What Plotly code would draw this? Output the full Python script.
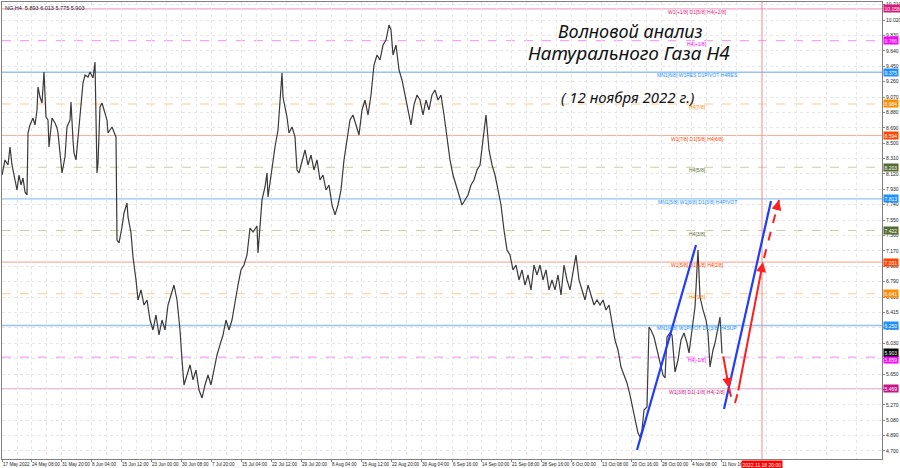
import plotly.graph_objects as go

# ---------------- data ----------------
# H4 bar index (sampled) and price of Natural Gas
bar_idx = [2, 5, 8, 10, 12, 15, 17, 19, 21, 23, 25, 27, 28, 30, 33, 35, 37, 38, 40, 42, 44, 46, 48, 49, 52, 55, 57, 58,
           60, 62, 65, 67, 70, 71, 73, 74, 76, 78, 80, 83, 85, 88, 90, 93, 95, 96, 97, 98, 100, 102, 105, 107, 108,
           112, 114, 116, 117, 119, 122, 124, 127, 128, 131, 133,
           136, 138, 141, 144, 147, 150, 153, 156, 159, 162, 165, 168, 171, 174, 177, 180, 182, 184, 187, 190, 193,
           196, 199, 202, 205, 208, 211, 214, 217, 220, 223, 226, 229, 232, 235, 238, 241, 244, 247,
           250, 253, 257, 258, 262, 265, 267, 268, 272, 275, 278, 282, 283, 287, 289, 292, 295, 297, 299,
           302, 305, 308, 311, 314, 317, 320, 323, 326, 329, 332, 335, 338, 341, 344, 347, 350, 353, 356, 359, 362,
           365, 368, 371, 374, 377, 380, 383, 386, 389, 391, 393, 396, 399, 402, 405, 408, 411, 414, 417, 420, 423,
           426, 429, 432, 435, 438, 441, 444,
           447, 450, 453, 456, 459, 462, 465, 468, 471, 474, 477, 480, 483, 486, 489, 492, 495, 498, 501, 504, 507,
           510, 513, 516, 519, 522, 525, 528, 531, 534, 537, 540, 543, 546, 549, 552, 555, 558, 561, 564, 567, 570,
           573, 576, 579, 582, 585, 588, 591, 594, 597, 600, 603, 606, 609,
           612, 615, 618, 621, 624, 627, 630, 633, 636, 638, 640, 642, 644, 647, 649, 651, 654, 657, 660, 663, 665,
           667, 670, 672, 675, 678, 681, 684, 687, 689, 692, 695, 698, 700, 703, 706, 708, 710, 713, 715, 717, 720,
           722]
price = [8.107, 8.293, 8.231, 8.453, 8.231, 8.070, 7.922, 8.107, 7.984, 8.070, 7.898, 7.860, 8.626, 8.725, 8.811,
         8.725, 8.910, 9.194, 9.070, 8.996, 9.379, 8.823, 8.786, 8.453, 8.811, 8.749, 8.688, 8.626,
         8.330, 8.132, 8.330, 8.700, 8.786, 9.009, 8.540, 8.379, 8.293, 8.577, 8.786, 9.243, 9.342, 9.317, 9.379,
         9.305, 9.502, 8.540, 8.132, 8.256, 8.947, 8.996, 8.873, 8.786, 8.626,
         8.700, 8.638, 8.577, 7.305, 7.268, 7.465, 7.638, 7.762, 7.589, 7.391, 7.095,
         6.811, 6.564, 6.688, 6.502, 6.564, 6.317, 6.194, 6.379, 6.132, 6.317, 6.194, 6.502, 6.626, 6.749, 6.564,
         6.194, 5.823, 5.515, 5.638, 5.762, 5.577, 5.700, 5.453, 5.354, 5.515, 5.638, 5.515, 5.700, 5.885, 6.009,
         6.132, 6.317, 6.194, 6.317, 6.564, 6.749, 6.935, 6.996, 7.120,
         7.453, 7.404, 7.478, 7.144, 7.799, 7.959, 8.132, 7.836, 8.206, 8.453, 8.663, 9.367, 9.070, 8.823, 8.626,
         8.700, 8.577, 8.169, 8.132,
         8.293, 8.416, 8.231, 8.354, 8.169, 8.293, 8.046, 8.107, 7.922, 7.984, 7.737, 7.614, 7.737, 7.922, 8.293,
         8.540, 8.786, 8.848, 8.725, 8.601, 8.910, 9.033, 8.848, 9.095, 9.465, 9.589, 9.527, 9.712, 9.774, 9.959,
         9.898, 9.589, 9.712, 9.404, 9.280, 9.095, 8.910, 8.725, 8.972, 9.095, 9.033, 8.848, 9.033, 8.910, 9.095,
         9.157, 9.033, 9.095, 8.848,
         8.540, 8.293, 8.107, 7.984, 7.860, 7.737, 7.799, 7.860, 7.984, 8.046, 8.169, 8.231, 8.540, 8.848, 8.416,
         8.231, 8.107, 7.922, 7.737, 7.428, 7.181, 7.120, 6.935, 6.996, 6.811, 6.935, 6.749, 6.873, 6.688, 6.996,
         6.873, 6.996, 6.811, 6.935, 6.688, 6.811, 6.688, 6.873, 6.626, 6.996, 6.811, 6.688, 6.935, 7.120, 6.811,
         6.688, 6.564, 6.749, 6.626, 6.502, 6.564, 6.502, 6.564, 6.441, 6.502,
         6.280, 6.070, 5.947, 5.737, 5.638, 5.540, 5.391, 5.206, 5.046, 4.922, 4.873, 4.959, 5.206, 5.243, 6.231,
         6.194, 6.107, 5.947, 5.823, 5.638, 5.601, 6.107, 6.157, 6.132, 5.675, 5.823, 6.070, 6.157, 6.033, 5.910,
         6.194, 6.478, 7.181, 6.601, 6.441, 6.317, 6.157, 5.737, 5.947, 6.033, 6.157, 6.354, 5.903]

# x-axis tick labels and their bar positions
x_tick_bars = [2, 31, 61, 91, 121, 151, 181, 211, 241, 271, 301, 331, 361, 391, 421, 452, 481, 511, 541, 571,
               601, 631, 661, 691, 721]
x_tick_labels = ["17 May 2022", "24 May 08:00", "31 May 20:00", "8 Jun 04:00", "15 Jun 12:00", "23 Jun 00:00",
                 "30 Jun 08:00", "7 Jul 20:00", "15 Jul 04:00", "22 Jul 12:00", "29 Jul 20:00", "8 Aug 04:00",
                 "15 Aug 12:00", "22 Aug 20:00", "30 Aug 04:00", "6 Sep 16:00", "14 Sep 00:00", "21 Sep 08:00",
                 "28 Sep 16:00", "6 Oct 00:00", "13 Oct 08:00", "20 Oct 16:00", "28 Oct 00:00", "4 Nov 08:00",
                 "11 Nov 16:00"]
x_grid_bars = [17, 46, 76, 106, 136, 166, 196, 226, 256, 286, 316, 346, 376, 406, 436, 467, 496, 526, 556, 586,
               616, 646, 676, 706, 736, 766, 796, 826, 856]

# y-axis tick values / labels
y_tick_vals = [4.70, 4.89, 5.08, 5.27, 5.46, 5.65, 5.84, 6.03, 6.22, 6.41, 6.60, 6.79, 6.98, 7.17, 7.36, 7.55,
               7.74, 7.93, 8.12, 8.31, 8.50, 8.69, 8.88, 9.07, 9.26, 9.45, 9.64, 9.83, 10.02, 10.21]
y_tick_text = ["4.700", "4.890", "5.080", "5.270", "5.460", "5.650", "5.840", "6.030", "6.220", "6.415", "6.600",
               "6.790", "6.980", "7.170", "7.360", "7.550", "7.740", "7.930", "8.120", "8.310", "8.500", "8.690",
               "8.880", "9.070", "9.260", "9.450", "9.640", "9.830", "10.020", "10.210"]

# Murrey-math levels
level_prices = [10.158, 9.766, 9.375, 8.984, 8.594, 8.203, 7.813, 7.422, 7.031, 6.641, 6.250, 5.859, 5.469]
level_names = ["W1[+1/8] D1[5/8] H4[+2/8]", "H4[+1/8]", "MN1[6/8] W1RES D1PIVOT H4RES", "H4[7/8]",
               "W1[7/8] D1[5/8] H4[6/8]", "H4[5/8]", "MN1[5/8] W1[6/8] D1[3/8] H4PIVOT", "H4[3/8]",
               "W1[5/8] D1[1/8] H4[2/8]", "H4[1/8]", "MN1[4/8] W1PIVOT D1[3/8] H4SUP", "H4[-1/8]",
               "W1[3/8] D1[-1/8] H4[-2/8]"]
level_box_colors = ["#d81b7a", "#ff00ff", "#1e90ff", "#ff8c00", "#ff4500", "#556b2f", "#1e90ff", "#556b2f",
                    "#ff4500", "#ff8c00", "#1e90ff", "#ff00ff", "#c71585"]
level_line_colors = ["#f2a6cb", "#f5a3f5", "#94c4f2", "#fbcb8f", "#f8b09c", "#cdcbab", "#94c4f2", "#cdcbab",
                     "#f8b09c", "#fbcb8f", "#94c4f2", "#f5a3f5", "#e9a6cf"]
level_dashed = [False, True, False, True, False, True, False, True, False, True, False, True, False]
level_label_bar = 697

last_close = 5.903
header_text = "NG,H4  5.893 6.013 5.775 5.903"
forecast_bar = 762
forecast_time = "2022.11.18 20:00"

# wave-analysis drawings (bar index, price)
blue_wave1_bars = [637, 696]
blue_wave1_prices = [4.712, 7.243]
blue_wave2_bars = [724, 771]
blue_wave2_prices = [5.219, 7.786]
red_down_solid = [(723, 5.885), (729, 5.478)]
red_down_dashed = [(729, 5.478), (733, 5.268)]
red_up_small_dashed = [(735, 5.293), (738, 5.428)]
red_up_solid = [(738, 5.428), (763, 7.033)]
red_up_dashed = [(764, 7.083), (779, 7.799)]

# ---------------- figure ----------------
fig = go.Figure()

fig.add_trace(go.Scatter(x=bar_idx, y=price, mode="lines",
                         line=dict(color="#3a3a3a", width=1.2), hoverinfo="skip"))

BLUE = "#1f3cff"
RED = "#ff1f1f"
fig.add_trace(go.Scatter(x=blue_wave1_bars, y=blue_wave1_prices, mode="lines",
                         line=dict(color=BLUE, width=2.2), hoverinfo="skip"))
fig.add_trace(go.Scatter(x=blue_wave2_bars, y=blue_wave2_prices, mode="lines",
                         line=dict(color=BLUE, width=2.2), hoverinfo="skip"))

for seg in [red_down_dashed, red_up_small_dashed, red_up_dashed]:
    fig.add_trace(go.Scatter(x=[seg[0][0], seg[1][0]], y=[seg[0][1], seg[1][1]], mode="lines",
                             line=dict(color=RED, width=2, dash="dash"), hoverinfo="skip"))

annotations = []

# solid red arrows
for seg in [red_down_solid, red_up_solid]:
    annotations.append(dict(x=seg[1][0], y=seg[1][1], ax=seg[0][0], ay=seg[0][1], xref="x", yref="y",
                            axref="x", ayref="y", showarrow=True, arrowhead=2, arrowsize=1,
                            arrowwidth=2, arrowcolor=RED, text=""))
# heads of dashed red arrows
for seg in [red_down_dashed, red_up_small_dashed, red_up_dashed]:
    (x0, y0), (x1, y1) = seg
    annotations.append(dict(x=x1, y=y1, ax=x1 - (x1 - x0) * 0.2, ay=y1 - (y1 - y0) * 0.2, xref="x", yref="y",
                            axref="x", ayref="y", showarrow=True, arrowhead=2, arrowsize=1,
                            arrowwidth=2, arrowcolor=RED, text=""))

shapes = []
for p, c, d in zip(level_prices, level_line_colors, level_dashed):
    shapes.append(dict(type="line", xref="paper", x0=0, x1=1, yref="y", y0=p, y1=p,
                       line=dict(color=c, width=1.4 if c == "#94c4f2" else 1.1, dash="dash" if d else "solid"),
                       layer="below"))
shapes.append(dict(type="line", xref="x", x0=forecast_bar, x1=forecast_bar, yref="paper", y0=0, y1=1,
                   line=dict(color="#f28a8a", width=1), layer="below"))

LBL = "Liberation Sans, Arial, sans-serif"
for p, name, c in zip(level_prices, level_names, level_box_colors):
    annotations.append(dict(x=level_label_bar, y=p, xref="x", yref="y", text=name, showarrow=False,
                            xanchor="center", yshift=-3, font=dict(family=LBL, size=5, color=c)))
    annotations.append(dict(x=1, y=p, xref="paper", yref="y", text=p.__format__(".3f"), showarrow=False,
                            xanchor="left", xshift=1, bgcolor=c, borderpad=0.5,
                            yshift=-2 if p == 5.859 else 0,
                            font=dict(family=LBL, size=5, color="white")))
annotations.append(dict(x=1, y=last_close, xref="paper", yref="y", text=f"{last_close:.3f}", showarrow=False,
                        xanchor="left", xshift=1, yshift=1, bgcolor="black", borderpad=0.5,
                        font=dict(family=LBL, size=5, color="white")))

annotations.append(dict(x=forecast_bar, y=0, xref="x", yref="paper", xanchor="center", yanchor="top", yshift=-1,
                        text=forecast_time, showarrow=False, bgcolor="#ff0000", borderpad=0.5,
                        font=dict(family=LBL, size=5, color="white")))

annotations.append(dict(x=0, y=1, xref="paper", yref="paper", xanchor="left", yanchor="top", xshift=1, yshift=-1,
                        text=header_text, showarrow=False, font=dict(family=LBL, size=5.5, color="#222")))

TITLE = "Noto Sans, DejaVu Sans, sans-serif"
annotations.append(dict(x=0.714, y=0.9365, xref="paper", yref="paper", xanchor="center", yanchor="middle",
                        text="Волновой анализ",
                        showarrow=False, font=dict(family=TITLE, size=18, color="#111", style="italic")))
annotations.append(dict(x=0.713, y=0.888, xref="paper", yref="paper", xanchor="center", yanchor="middle",
                        text="Натурального Газа Н4",
                        showarrow=False, font=dict(family=TITLE, size=19, color="#111", style="italic")))
annotations.append(dict(x=0.711, y=0.792, xref="paper", yref="paper", xanchor="center", yanchor="middle",
                        text="( 12 ноября 2022 г.)",
                        showarrow=False, font=dict(family=TITLE, size=15, color="#111", style="italic")))

fig.update_layout(
    width=900, height=468,
    margin=dict(l=2, r=18, t=2, b=9),
    paper_bgcolor="white", plot_bgcolor="white",
    showlegend=False, hovermode=False,
    shapes=shapes, annotations=annotations,
    xaxis=dict(range=[2, 882], tickmode="array", tickvals=x_tick_bars, ticktext=x_tick_labels,
               ticklabelposition="outside right", tickangle=0, ticks="outside", ticklen=2, tickcolor="#888",
               tickfont=dict(family=LBL, size=4.6, color="#222"), automargin=False,
               showgrid=True, gridcolor="#e6e6e6", griddash="dot", gridwidth=1,
               minor=dict(tickmode="array", tickvals=x_grid_bars, showgrid=True, gridcolor="#e6e6e6",
                          griddash="dot"),
               showline=True, linecolor="#808080", linewidth=1, mirror=True, zeroline=False,
               fixedrange=True),
    yaxis=dict(range=[4.601, 10.243], side="right", tickmode="array", tickvals=y_tick_vals,
               ticktext=y_tick_text, ticks="outside", ticklen=2, tickcolor="#888",
               tickfont=dict(family=LBL, size=5, color="#222"), automargin=False,
               showgrid=True, gridcolor="#e6e6e6", griddash="dot", gridwidth=1,
               showline=True, linecolor="#808080", linewidth=1, mirror=True, zeroline=False,
               fixedrange=True),
)

fig.write_html("out.html", config={"displayModeBar": False},
               post_script="document.body.style.margin='0';document.body.style.overflow='hidden';")
